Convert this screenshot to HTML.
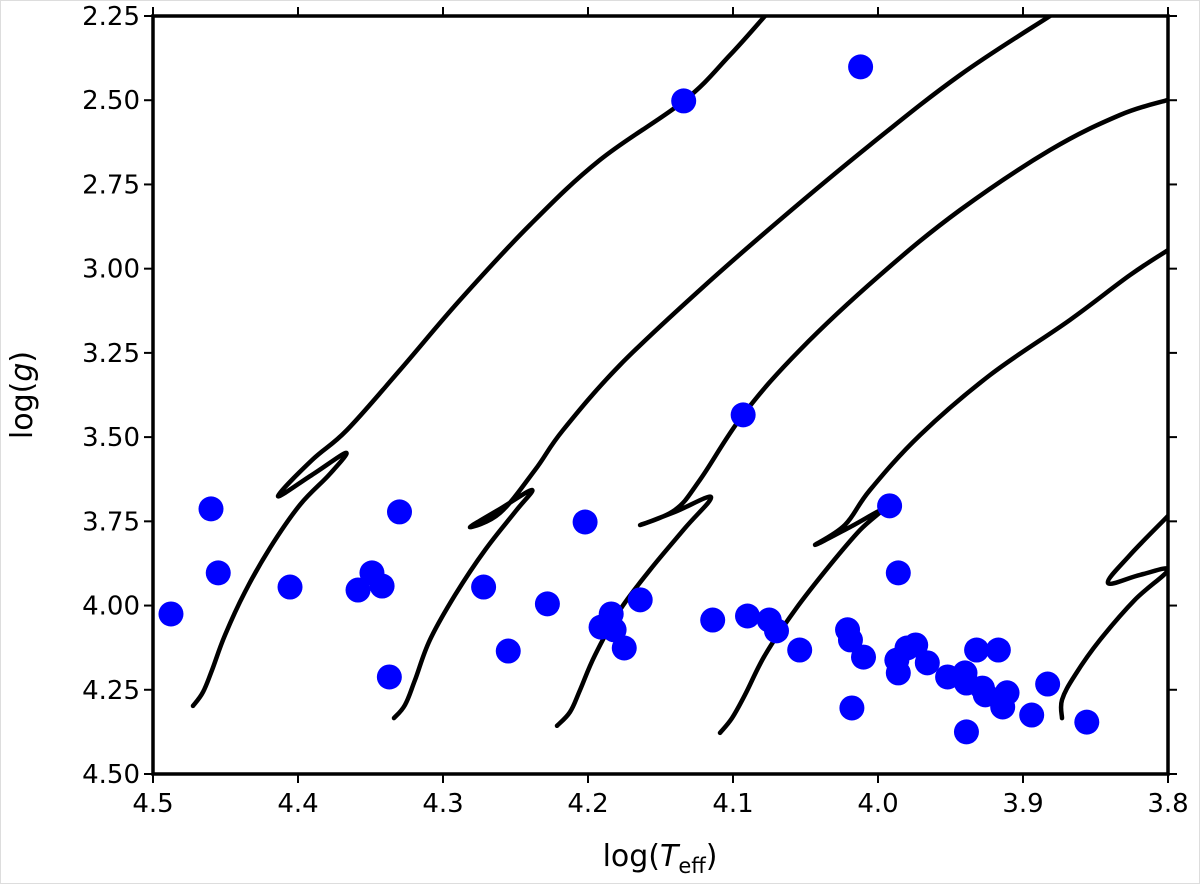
<!DOCTYPE html>
<html><head><meta charset="utf-8">
<style>
html,body{margin:0;padding:0;background:#fff;}
svg{display:block;font-family:"DejaVu Sans","Liberation Sans",sans-serif;}
</style></head>
<body>
<svg id="chart" width="1200" height="884" viewBox="0 0 1200 884" xmlns="http://www.w3.org/2000/svg">
<rect x="0.5" y="0.5" width="1199" height="883" fill="#fff" stroke="#ddd"/>
<defs><clipPath id="plotclip"><rect x="153" y="16" width="1015" height="758"/></clipPath></defs>
<g id="tracks" clip-path="url(#plotclip)"></g>
<g id="dots" clip-path="url(#plotclip)"></g>
<rect x="153" y="16" width="1015" height="758" fill="none" stroke="#000" stroke-width="3.5"/>
<g id="axes"></g>
<text x="660" y="866" text-anchor="middle" font-size="30">log(<tspan font-style="italic">T</tspan><tspan font-size="21" dy="7">eff</tspan><tspan dy="-7">)</tspan></text>
<text transform="translate(32,395) rotate(-90)" text-anchor="middle" font-size="30">log(<tspan font-style="italic">g</tspan>)</text>
</svg>
<script>
const xTicks = [4.5, 4.4, 4.3, 4.2, 4.1, 4.0, 3.9, 3.8];
const xTickLabels = ["4.5","4.4","4.3","4.2","4.1","4.0","3.9","3.8"];
const yTicks = [2.25, 2.5, 2.75, 3.0, 3.25, 3.5, 3.75, 4.0, 4.25, 4.5];
const yTickLabels = ["2.25","2.50","2.75","3.00","3.25","3.50","3.75","4.00","4.25","4.50"];
const starTeff = [4.4876,4.460,4.455,4.4055,4.3586,4.349,4.342,4.337,4.330,4.272,4.255,4.228,4.202,4.191,4.184,4.182,4.175,4.164,4.134,4.114,4.093,4.090,4.075,4.070,4.054,4.012,4.021,4.019,4.010,4.018,3.992,3.986,3.987,3.986,3.980,3.974,3.966,3.952,3.940,3.939,3.928,3.926,3.932,3.917,3.911,3.914,3.894,3.883,3.939,3.856];
const starLogg = [4.025,3.713,3.903,3.945,3.954,3.903,3.942,4.212,3.722,3.945,4.135,3.995,3.752,4.064,4.025,4.072,4.126,3.983,2.502,4.043,3.434,4.031,4.043,4.075,4.132,2.401,4.072,4.102,4.153,4.304,3.704,3.903,4.162,4.200,4.126,4.117,4.170,4.212,4.200,4.230,4.245,4.265,4.132,4.132,4.259,4.301,4.325,4.233,4.375,4.346];
const track1T = [4.4724,4.4655,4.4593,4.4503,4.4366,4.4193,4.3986,4.3779,4.3669,4.3903,4.4138,4.3903,4.3662,4.3297,4.2883,4.2400,4.1917,4.1338,4.1021,4.0779];
const track1G = [4.298,4.257,4.192,4.087,3.960,3.829,3.701,3.609,3.547,3.612,3.675,3.568,3.479,3.301,3.093,2.870,2.677,2.502,2.366,2.25];
const track2T = [4.3338,4.3262,4.3193,4.3090,4.2917,4.2710,4.2503,4.2386,4.2607,4.2814,4.2607,4.2366,4.2172,4.1779,4.1228,4.0676,4.0055,3.9434,3.8814];
const track2G = [4.334,4.295,4.221,4.102,3.969,3.835,3.722,3.657,3.713,3.767,3.725,3.598,3.479,3.286,3.063,2.855,2.633,2.425,2.25];
const track3T = [4.2214,4.2124,4.2055,4.1952,4.1779,4.1572,4.1331,4.1152,4.1400,4.1641,4.1400,4.1228,4.0931,4.0538,3.9986,3.9434,3.8814,3.8331,3.8];
const track3G = [4.357,4.316,4.251,4.147,4.013,3.894,3.770,3.678,3.722,3.761,3.716,3.627,3.434,3.241,3.019,2.826,2.648,2.544,2.499];
const track4T = [4.1090,4.1007,4.0917,4.0779,4.0572,4.0331,4.0124,3.9972,4.0193,4.0434,4.0228,4.0055,3.9710,3.9228,3.8676,3.8262,3.8];
const track4G = [4.378,4.334,4.265,4.147,4.013,3.880,3.776,3.716,3.767,3.820,3.761,3.657,3.494,3.316,3.152,3.019,2.945];
const track5T = [3.8731,3.8731,3.8641,3.8469,3.8228,3.8,3.8193,3.8414,3.8262,3.8];
const track5G = [4.334,4.280,4.206,4.102,3.983,3.894,3.909,3.933,3.850,3.734];

const NS = "http://www.w3.org/2000/svg";
const L = 153, R = 1168, T = 16, B = 774;
function xs(v){ return L + (4.5 - v) / 0.7 * (R - L); }
function ys(v){ return T + (v - 2.25) / 2.25 * (B - T); }
function mk(tag, attrs){ const e = document.createElementNS(NS, tag); for (const k in attrs) e.setAttribute(k, attrs[k]); return e; }
function smoothPath(p){
  let d = 'M' + p[0][0].toFixed(1) + ',' + p[0][1].toFixed(1);
  const k = 0.18;
  for (let i = 0; i < p.length - 1; i++) {
    const p0 = p[Math.max(0, i - 1)], p1 = p[i], p2 = p[i + 1], p3 = p[Math.min(p.length - 1, i + 2)];
    const c1 = [p1[0] + (p2[0] - p0[0]) * k, p1[1] + (p2[1] - p0[1]) * k];
    const c2 = [p2[0] - (p3[0] - p1[0]) * k, p2[1] - (p3[1] - p1[1]) * k];
    d += ' C' + c1[0].toFixed(1) + ',' + c1[1].toFixed(1) + ' ' + c2[0].toFixed(1) + ',' + c2[1].toFixed(1) + ' ' + p2[0].toFixed(1) + ',' + p2[1].toFixed(1);
  }
  return d;
}

const axes = document.getElementById('axes');
xTicks.forEach((v, i) => {
  const x = xs(v);
  const t = mk('line', {x1:x, x2:x, y1:B, y2:B+9, stroke:'#000', 'stroke-width':2});
  
  
  axes.appendChild(t);
  const t2 = mk('line', {x1:x, x2:x, y1:T, y2:T-9, stroke:'#000', 'stroke-width':2});
  
  
  axes.appendChild(t2);
  const lb = mk('text', {x:x, y:B+38, 'text-anchor':'middle', 'font-size':26});
  lb.textContent = xTickLabels[i];
  
  
  axes.appendChild(lb);
});
yTicks.forEach((v, i) => {
  const y = ys(v);
  const t = mk('line', {x1:L-9, x2:L, y1:y, y2:y, stroke:'#000', 'stroke-width':2});
  
  
  axes.appendChild(t);
  const t2 = mk('line', {x1:R, x2:R+9, y1:y, y2:y, stroke:'#000', 'stroke-width':2});
  
  
  axes.appendChild(t2);
  const lb = mk('text', {x:L-13, y:y+9, 'text-anchor':'end', 'font-size':26});
  lb.textContent = yTickLabels[i];
  
  
  axes.appendChild(lb);
});

const tracksG = document.getElementById('tracks');
[[track1T,track1G],[track2T,track2G],[track3T,track3G],[track4T,track4G],[track5T,track5G]].forEach((tr, k) => {
  const pts = tr[0].map((t, i) => [xs(t), ys(tr[1][i])]);
  const pl = mk('path', {d:smoothPath(pts), fill:'none', stroke:'#000', 'stroke-width':4.5, 'stroke-linejoin':'round', 'stroke-linecap':'round'});
  
  
  tracksG.appendChild(pl);
});

const dotsG = document.getElementById('dots');
starTeff.forEach((t, i) => {
  const c = mk('circle', {cx:xs(t), cy:ys(starLogg[i]), r:12.5, fill:'#0000ff'});
  
  
  dotsG.appendChild(c);
});
</script>
</body></html>
